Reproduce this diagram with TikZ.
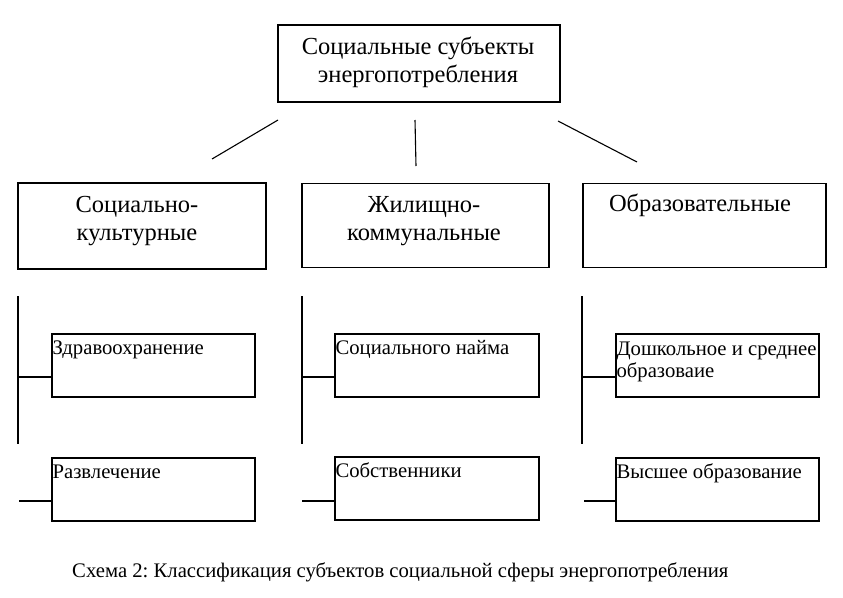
\documentclass[tikz,border=0pt]{standalone}
\usepackage{fontspec}
\setmainfont{Liberation Serif}
\frenchspacing
\begin{document}
\begin{tikzpicture}[x=1pt,y=-1pt,
  box/.style={draw, line width=1.3pt, rectangle, inner sep=0pt},
  conn/.style={line width=1.1pt},
  bigtext/.style={inner sep=0pt, align=center, anchor=base, font=\fontsize{24.5}{27.5}\selectfont},
  smalltext/.style={inner sep=0pt, align=left, anchor=base west, font=\fontsize{20.7}{22}\selectfont},
  captext/.style={inner sep=0pt, anchor=base west, font=\fontsize{20.7}{22}\selectfont}]
\useasboundingbox (0,0) rectangle (843,597);
% top box
\node[box, minimum width=282, minimum height=77] (top) at (419,63.5) {};
\node[bigtext] (toptext) at (418,82) {Социальные субъекты\\энергопотребления};
% level 2 boxes
\node[box, minimum width=248, minimum height=86] (b1) at (142,226) {};
\node[box, minimum width=247, minimum height=84] (b2) at (425.5,225.5) {};
\node[box, minimum width=243, minimum height=84] (b3) at (704.5,225.5) {};
\node[bigtext] (t1) at (137,240) {Социально-\\культурные};
\node[bigtext] (t2) at (424,240) {Жилищно-\\коммунальные};
\node[bigtext] (t3) at (700,211) {Образовательные};
% connectors from top
\coordinate (c1a) at (278,120); \coordinate (c1b) at (212,159);
\coordinate (c2a) at (415,120); \coordinate (c2b) at (416,166);
\coordinate (c3a) at (558,121); \coordinate (c3b) at (637,162);
\draw[conn] (c1a) -- (c1b);
\draw[conn] (c2a) -- (c2b);
\draw[conn] (c3a) -- (c3b);
% sub boxes
\node[box, minimum width=203, minimum height=63] (s11) at (153.5,365.5) {};
\node[box, minimum width=203, minimum height=63] (s12) at (153.5,489.5) {};
\node[box, minimum width=204, minimum height=63] (s21) at (437,365.5) {};
\node[box, minimum width=204, minimum height=63] (s22) at (437,488.5) {};
\node[box, minimum width=203, minimum height=63] (s31) at (717.5,365.5) {};
\node[box, minimum width=203, minimum height=63] (s32) at (717.5,489.5) {};
\node[smalltext] (u11) at ([xshift=1, yshift=-21]s11.north west) {Здравоохранение};
\node[smalltext] (u12) at ([xshift=1, yshift=-21]s12.north west) {Развлечение};
\node[smalltext] (u21) at ([xshift=1, yshift=-21]s21.north west) {Социального найма};
\node[smalltext] (u22) at ([xshift=1, yshift=-21]s22.north west) {Собственники};
\node[smalltext] (u31) at ([xshift=1, yshift=-44]s31.north west) {Дошкольное и среднее\\образоваие};
\node[smalltext] (u32) at ([xshift=1, yshift=-21]s32.north west) {Высшее образование};
% vertical spines
\coordinate (v1a) at (18,296); \coordinate (v1b) at (18,444); \coordinate (w1) at (19,501);
\coordinate (v2a) at (302,296); \coordinate (v2b) at (302,444); \coordinate (w2) at (302,501);
\coordinate (v3a) at (582,296); \coordinate (v3b) at (582,444); \coordinate (w3) at (584,501);
\draw[conn] (v1a) -- (v1b);
\draw[conn] (v2a) -- (v2b);
\draw[conn] (v3a) -- (v3b);
\draw[conn] (v1a |- 0,377) -- (s11.west |- 0,377);
\draw[conn] (v2a |- 0,377) -- (s21.west |- 0,377);
\draw[conn] (v3a |- 0,377) -- (s31.west |- 0,377);
\draw[conn] (w1) -- (s12.west |- w1);
\draw[conn] (w2) -- (s22.west |- w2);
\draw[conn] (w3) -- (s32.west |- w3);
% caption
\node[captext] (cap) at (72,577) {Схема 2: Классификация субъектов социальной сферы энергопотребления};
\end{tikzpicture}
\end{document}
